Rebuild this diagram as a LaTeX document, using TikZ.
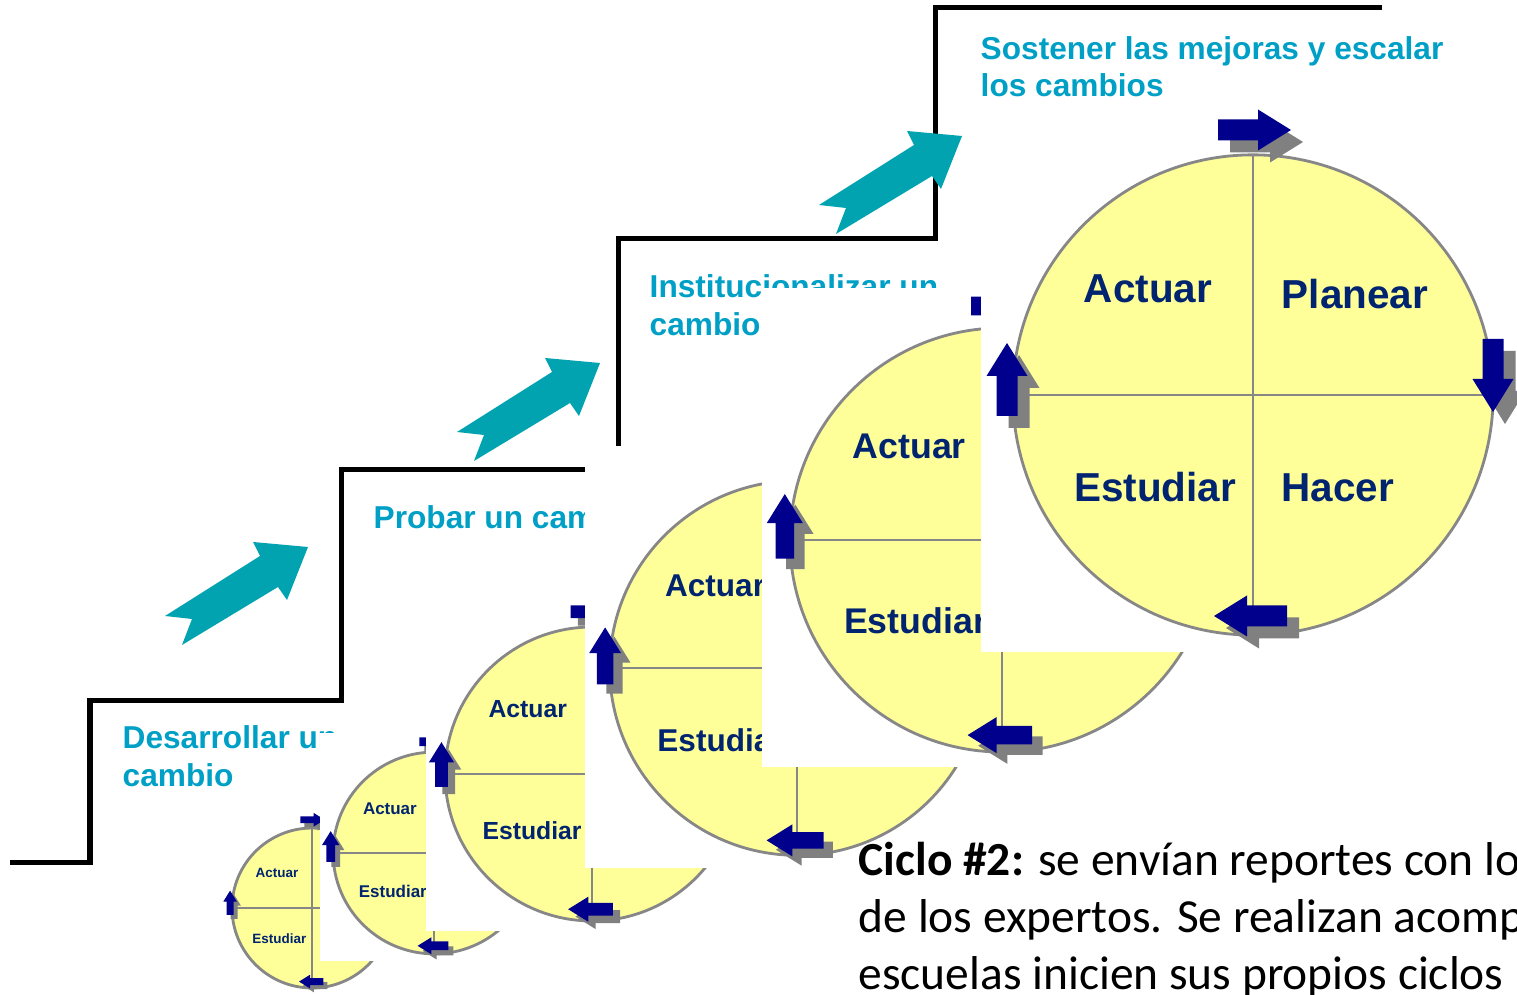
\documentclass[tikz,border=0pt]{standalone}
\usepackage{fontspec}
\setmainfont{Liberation Sans}
\newfontfamily\calibri{Carlito}

\definecolor{stepteal}{RGB}{0,160,198}
\definecolor{arrowteal}{RGB}{0,163,175}
\definecolor{cycyellow}{RGB}{255,255,153}
\definecolor{cycgray}{RGB}{135,135,135}
\definecolor{cycnavy}{RGB}{0,0,140}
\definecolor{labelnavy}{RGB}{0,36,112}
\definecolor{shadowgray}{RGB}{128,128,128}

\tikzset{
  stair/.style={line width=0.05cm, line join=miter},
  steptext/.style={anchor=base west, inner sep=0, text=stepteal, font=\fontsize{9}{10.8}\selectfont\bfseries},
  notetext/.style={anchor=base west, inner sep=0, font=\calibri\fontsize{13.5}{16}\selectfont},
  cyclabel/.style={text=labelnavy, inner sep=0, font=\fontsize{11.5}{13}\selectfont\bfseries},
  ring/.style={circle, draw=cycgray, fill=cycyellow, line width=0.8pt, minimum size=4.8cm, inner sep=0, outer sep=0},
  axis/.style={draw=cycgray, line width=0.7pt},
  % flecha azul con sombra gris
  cycarrow/.pic={
    \fill[shadowgray, shift={(12,-12)}, rotate=#1] (-37,-10.5) -- (3,-10.5) -- (3,-20.5) -- (36,0) -- (3,20.5) -- (3,10.5) -- (-37,10.5) -- cycle;
    \fill[cycnavy, rotate=#1] (-37,-10.5) -- (3,-10.5) -- (3,-20.5) -- (36,0) -- (3,20.5) -- (3,10.5) -- (-37,10.5) -- cycle;
  },
  % flecha verde azulada entre escalones
  growarrow/.pic={
    \fill[arrowteal] (0,0) -- (-55,5) -- (-48,-9) -- (-143,-69) -- (-116,-72) -- (-126,-98) -- (-30,-40) -- (-21,-53) -- cycle;
  },
  % ciclo PDCA con su fondo blanco
  pdca/.pic={
    \fill[white] (-272,285) rectangle (275,-257);
    \node[ring] (-ring) at (0,0) {};
    \draw[axis] (-ring.north) -- (-ring.south);
    \draw[axis] (-ring.west) -- (-ring.east);
    \node[cyclabel] (-act) at (-105,106) {Actuar};
    \node[cyclabel] (-est) at (-98,-92) {Estudiar};
    \pic at (2,265) {cycarrow=0};
    \pic at (240,19) {cycarrow=-90};
    \pic at (-3,-221) {cycarrow=180};
    \pic at (-246,16) {cycarrow=90};
  }
}

\begin{document}
\begin{tikzpicture}[x=0.01cm, y=0.01cm]
    \useasboundingbox (0,0) rectangle (1517,-995);
    \clip (0,0) rectangle (1517,-995);

    % escalera
    \draw[stair] (10,-863) -- (90,-863) -- (90,-701) -- (341,-701) -- (341,-470) -- (618,-470)
        -- (618,-239) -- (935,-239) -- (935,-8) -- (1382,-8);

    % textos de los escalones
    \node[steptext] (s1a) at (122,-749) {Desarrollar un};
    \node[steptext] (s1b) at (122,-787) {cambio};
    \node[steptext] (s2) at (373,-529) {Probar un cambio};
    \node[steptext] (s3a) at (649,-298) {Institucionalizar un};
    \node[steptext] (s3b) at (649,-336) {cambio};
    \node[steptext] (s4a) at (980,-60) {Sostener las mejoras y escalar};
    \node[steptext] (s4b) at (980,-97) {los cambios};

    % flechas
    \pic (up1) at (308,-547) {growarrow};
    \pic (up2) at (600,-363) {growarrow};
    \pic (up3) at (962,-136) {growarrow};

    % ciclos
    \pic[scale=0.333, transform shape] (c1) at (312,-908) {pdca};
    \pic[scale=0.42, transform shape] (c2) at (434,-853) {pdca};
    \pic[scale=0.612, transform shape] (c3) at (592,-774) {pdca};
    \pic[scale=0.78, transform shape] (c4) at (797,-668) {pdca};
    \pic[scale=0.883, transform shape] (c5) at (1002,-540) {pdca};
    \pic (c6) at (1253,-395) {pdca};
    \node[cyclabel] (planear) at (1355,-294) {Planear};
    \node[cyclabel] (hacer) at (1338,-488) {Hacer};

    % nota
    \node[notetext] (n1) at (858,-876) {\textbf{Ciclo \#2:} se envían reportes con lo};
    \node[notetext] (n2) at (858,-933) {de los expertos. Se realizan acomp};
    \node[notetext] (n3) at (858,-990) {escuelas inicien sus propios ciclos};
\end{tikzpicture}
\end{document}
